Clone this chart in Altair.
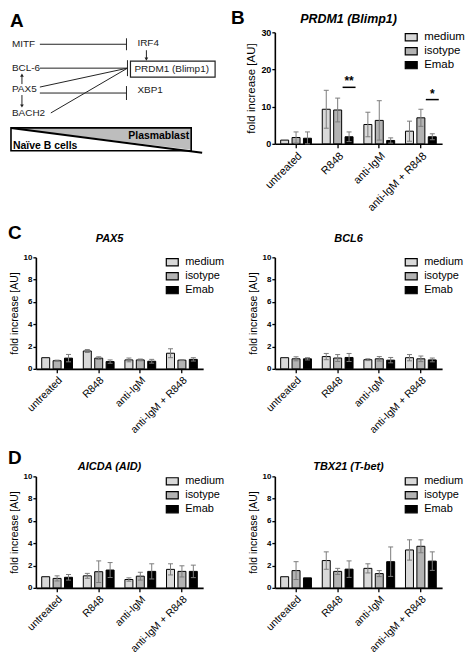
import altair as alt
import pandas as pd

# ---------------- data ----------------
groups = ["untreated", "R848", "anti-IgM", "anti-IgM + R848"]
treatments = ["medium", "isotype", "Emab"]
fills = ["#d9d9d9", "#b3b3b3", "#000000"]

prdm1_mean = [[1.0, 1.7, 1.5], [9.3, 9.1, 1.9], [5.2, 6.3, 0.9], [3.4, 7.0, 1.9]]
prdm1_sd = [[0.0, 1.5, 1.7], [5.1, 3.2, 1.3], [3.3, 5.3, 0.7], [2.7, 2.3, 0.8]]
sig_groups = ["R848", "anti-IgM + R848"]
sig_labels = ["**", "*"]
sig_y = [15.2, 11.9]

pax5_mean = [[1.0, 0.73, 0.96], [1.6, 0.96, 0.65], [0.8, 0.8, 0.68], [1.4, 0.78, 0.85]]
pax5_sd = [[0.0, 0.05, 0.33], [0.13, 0.12, 0.15], [0.17, 0.08, 0.17], [0.4, 0.04, 0.15]]

bcl6_mean = [[1.0, 0.9, 0.9], [1.1, 0.97, 1.02], [0.82, 0.9, 0.78], [1.0, 0.9, 0.8]]
bcl6_sd = [[0.0, 0.18, 0.1], [0.28, 0.31, 0.36], [0.08, 0.2, 0.24], [0.28, 0.25, 0.17]]

aicda_mean = [[1.0, 0.85, 0.95], [1.08, 1.45, 1.6], [0.75, 1.05, 1.48], [1.66, 1.48, 1.48]]
aicda_sd = [[0.0, 0.23, 0.25], [0.22, 0.97, 0.67], [0.15, 0.35, 0.68], [0.5, 0.5, 0.56]]

tbx21_mean = [[1.0, 1.55, 0.9], [2.45, 1.48, 1.68], [1.75, 1.28, 2.35], [3.4, 3.73, 2.4]]
tbx21_sd = [[0.0, 0.8, 0.0], [0.78, 0.27, 0.74], [0.41, 0.27, 1.32], [0.91, 0.58, 0.83]]

# diagram (panel A)
node_labels = ["MITF", "IRF4", "BCL-6", "PRDM1 (Blimp1)", "PAX5", "XBP1", "BACH2"]
node_x = [4, 130, 4, 127, 4, 130, 4]
node_y = [34, 33, 58, 59, 79, 80, 103]
edge_x1 = [32, 119, 32, 120, 32, 32, 119, 43, 139, 14, 14]
edge_y1 = [34, 28, 58, 50, 77, 83, 76, 103, 40, 74, 85]
edge_x2 = [119, 119, 120, 120, 120, 119, 119, 120, 139, 14, 14]
edge_y2 = [34, 40, 58, 66, 58, 83, 90, 58, 49, 65, 95]
arrow_x = [139, 14, 14]
arrow_y = [49, 65, 96]
arrow_shape = ["triangle-down", "triangle-up", "triangle-down"]
stage_right = "Plasmablast"
stage_left = "Naïve B cells"

FONT = "Liberation Sans"
PW, PH = 168, 112   # plot-area size of every bar panel


def long_table(mean, sd):
    rows = []
    for gi, g in enumerate(groups):
        for ti, t in enumerate(treatments):
            m = mean[gi][ti]
            s = sd[gi][ti]
            rows.append(dict(group=g, treat=t, mean=m, sd=s,
                             lo=max(m - s, 0.0), hi=m + s))
    return pd.DataFrame(rows)


def panel(title, mean, sd, ymax, yticks, letter=None, letter_dx=-28, letter_dy=-18,
          title_dy=-15, big=False, sig=False):
    df = long_table(mean, sd)
    lab_fs = 11 if big else 10.5
    tick_fs = 9 if big else 8
    ttl_fs = 11.5 if big else 10.5
    head_fs = 12.5 if big else 11
    leg_fs = 11.5 if big else 11

    xaxis = alt.Axis(title=None, labelAngle=-45, labelAlign="right",
                     labelBaseline="top", labelFontSize=lab_fs, labelPadding=2,
                     tickSize=4, tickWidth=1.3, domainWidth=1.6,
                     labelColor="black", domainColor="black", tickColor="black")
    xenc = alt.X("group:N", sort=groups,
                 scale=alt.Scale(domain=groups, paddingInner=0.26, paddingOuter=0.14),
                 axis=xaxis)
    xoff = alt.XOffset("treat:N", sort=treatments,
                       scale=alt.Scale(domain=treatments, paddingInner=0.3, paddingOuter=0))
    yscale = alt.Scale(domain=[0, ymax], nice=False)
    yaxis = alt.Axis(title="fold increase [AU]", values=yticks,
                     labelFontSize=tick_fs, labelFontWeight="bold",
                     labelPadding=1, tickSize=3, tickWidth=1.3,
                     domainWidth=1.6, titleFontSize=ttl_fs,
                     titleFontWeight="normal", titlePadding=4,
                     labelColor="black", titleColor="black",
                     domainColor="black", tickColor="black")

    def Yf(f):
        return alt.Y(f, scale=yscale, axis=yaxis, stack=None)

    base = alt.Chart(df)
    bars = base.mark_bar(stroke="black", strokeWidth=1).encode(
        x=xenc, xOffset=xoff, y=Yf("mean:Q"),
        color=alt.Color("treat:N", sort=treatments,
                        scale=alt.Scale(domain=treatments, range=fills),
                        legend=alt.Legend(title=None, orient="none", legendX=130,
                                          legendY=-2,
                                          symbolType="M-1,-0.6H1V0.6H-1Z",
                                          symbolSize=144, symbolStrokeColor="black",
                                          symbolStrokeWidth=1.2, symbolOpacity=1,
                                          labelFontSize=leg_fs, labelOffset=6,
                                          rowPadding=1, padding=0,
                                          labelColor="black")))
    errdf = base.transform_filter("datum.sd > 0")
    err = errdf.mark_rule(color="#7c7c7c", strokeWidth=1).encode(
        x=xenc, xOffset=xoff, y=Yf("lo:Q"), y2="hi:Q")
    cap_top = errdf.mark_tick(orient="horizontal", size=5, thickness=1,
                              color="#7c7c7c", opacity=1).encode(
        x=xenc, xOffset=xoff, y=Yf("hi:Q"))
    cap_bot = errdf.mark_tick(orient="horizontal", size=5, thickness=1,
                              color="#7c7c7c", opacity=1).encode(
        x=xenc, xOffset=xoff, y=Yf("lo:Q"))

    layers = [bars, err, cap_top, cap_bot]

    if sig:
        # bracket between isotype and Emab bars: centred on the Emab band start
        sdf = pd.DataFrame({"group": sig_groups, "label": sig_labels, "y": sig_y,
                            "treat": ["Emab"] * len(sig_groups)})
        soff = alt.XOffset("treat:N", sort=treatments, bandPosition=0,
                           scale=alt.Scale(domain=treatments, paddingInner=0.3,
                                           paddingOuter=0))
        sline = alt.Chart(sdf).mark_tick(orient="horizontal", size=13, thickness=1.5,
                                         color="black", opacity=1).encode(
            x=xenc, xOffset=soff, y=Yf("y:Q"))
        stext = alt.Chart(sdf).mark_text(baseline="alphabetic", dy=-2, fontSize=12,
                                         fontWeight="bold", color="black").encode(
            x=xenc, xOffset=soff, y=Yf("y:Q"), text="label:N")
        layers += [sline, stext]

    head = alt.Chart(pd.DataFrame({"t": [title]})).mark_text(
        fontStyle="italic", fontWeight="bold", fontSize=head_fs, align="center",
        baseline="alphabetic", color="black").encode(
        text="t:N", x=alt.value(PW / 2 - 10), y=alt.value(title_dy))
    layers.append(head)

    if letter:
        let = alt.Chart(pd.DataFrame({"t": [letter]})).mark_text(
            fontWeight="bold", fontSize=19, align="left", baseline="alphabetic",
            color="black").encode(text="t:N", x=alt.value(letter_dx),
                                  y=alt.value(letter_dy))
        layers.append(let)

    return alt.layer(*layers).properties(width=PW, height=PH)


# ---------------- panel A (diagram) ----------------
# diagram units are pixels; its origin sits at the PAX5 plot's left edge and at
# the PRDM1 plot's top edge, so the drawing extends up/left beyond its frame
DW, DH = 180, 112
UX0, UY0 = 28, 22
dx = alt.Scale(domain=[UX0, UX0 + DW])
dy = alt.Scale(domain=[UY0, UY0 + DH], reverse=True)


def X(f="x"):
    return alt.X(f + ":Q", scale=dx, axis=None)


def Y(f="y"):
    return alt.Y(f + ":Q", scale=dy, axis=None)


nodes = pd.DataFrame({"label": node_labels, "x": node_x, "y": node_y})
edges = pd.DataFrame({"x": edge_x1, "y": edge_y1, "x2": edge_x2, "y2": edge_y2})
arrows = pd.DataFrame({"x": arrow_x, "y": arrow_y, "shape": arrow_shape})

node_text = alt.Chart(nodes).mark_text(align="left", baseline="middle", fontSize=10,
                                       color="#222").encode(x=X(), y=Y(), text="label:N")
edge_rules = alt.Chart(edges).mark_rule(color="#222", strokeWidth=1).encode(
    x=X(), y=Y(), x2="x2:Q", y2="y2:Q")
arrow_pts = alt.Chart(arrows).mark_point(filled=True, size=14, color="#222",
                                         opacity=1).encode(
    x=X(), y=Y(), shape=alt.Shape("shape:N", scale=None))
prdm_box = alt.Chart(pd.DataFrame({"x": [123], "x2": [208], "y": [51], "y2": [67]})).mark_rect(
    fillOpacity=0, stroke="#222", strokeWidth=1.2).encode(
    x=X(), x2="x2:Q", y=Y(), y2="y2:Q")

tri = alt.Chart(pd.DataFrame({"x": [3, 184], "y": [118, 140], "y2": [118, 118]})).mark_area(
    color="#bdbdbd", opacity=1).encode(x=X(), y=Y(), y2="y2:Q")
stage_box = alt.Chart(pd.DataFrame({"x": [3], "x2": [184], "y": [118], "y2": [141]})).mark_rect(
    fillOpacity=0, stroke="black", strokeWidth=1.6).encode(
    x=X(), x2="x2:Q", y=Y(), y2="y2:Q")
diag = alt.Chart(pd.DataFrame({"x": [3], "x2": [195], "y": [118], "y2": [143]})).mark_rule(
    color="black", strokeWidth=2).encode(x=X(), x2="x2:Q", y=Y(), y2="y2:Q")
stage_r = alt.Chart(pd.DataFrame({"label": [stage_right], "x": [182], "y": [129]})).mark_text(
    fontWeight="bold", fontSize=10.5, baseline="alphabetic", align="right",
    color="black").encode(x=X(), y=Y(), text="label:N")
stage_l = alt.Chart(pd.DataFrame({"label": [stage_left], "x": [5], "y": [139]})).mark_text(
    fontWeight="bold", fontSize=10.5, baseline="alphabetic", align="left",
    color="black").encode(x=X(), y=Y(), text="label:N")
letterA = alt.Chart(pd.DataFrame({"t": ["A"], "x": [2], "y": [17]})).mark_text(
    fontWeight="bold", fontSize=19, align="left", baseline="alphabetic",
    color="black").encode(x=X(), y=Y(), text="t:N")

diagram = alt.layer(tri, stage_box, diag, stage_r, stage_l, edge_rules, arrow_pts,
                    prdm_box, node_text, letterA).properties(width=DW, height=DH)

# ---------------- bar panels ----------------
pB = panel("PRDM1 (Blimp1)", prdm1_mean, prdm1_sd, 30, [0, 10, 20, 30], letter="B",
           letter_dx=-44, letter_dy=-8, title_dy=-9, big=True, sig=True)
pC1 = panel("PAX5", pax5_mean, pax5_sd, 10, [0, 2, 4, 6, 8, 10], letter="C",
            letter_dx=-28, letter_dy=-18, title_dy=-15)
pC2 = panel("BCL6", bcl6_mean, bcl6_sd, 10, [0, 2, 4, 6, 8, 10], title_dy=-15)
pD1 = panel("AICDA (AID)", aicda_mean, aicda_sd, 10, [0, 2, 4, 6, 8, 10], letter="D",
            letter_dx=-28, letter_dy=-12, title_dy=-6)
pD2 = panel("TBX21 (T-bet)", tbx21_mean, tbx21_sd, 10, [0, 2, 4, 6, 8, 10], title_dy=-6)

# with flush bounds the nested rows count as zero-height, so the spacing is the
# full distance between successive plot tops
row1 = alt.hconcat(diagram, pB, spacing=240 - DW, bounds="flush").resolve_scale(
    color="independent")
row2 = alt.hconcat(pC1, pC2, spacing=240 - PW, bounds="flush").resolve_scale(
    color="independent")
row3 = alt.hconcat(pD1, pD2, spacing=240 - PW, bounds="flush").resolve_scale(
    color="independent")
lower = alt.vconcat(row2, row3, spacing=220, bounds="flush").resolve_scale(
    color="independent")

chart = alt.vconcat(row1, lower, spacing=226, bounds="flush").resolve_scale(
    color="independent").properties(padding=0).configure(font=FONT).configure_view(
    strokeWidth=0).configure_axis(grid=False)

chart.save("out.html", embed_options={"renderer": "svg", "actions": False})
